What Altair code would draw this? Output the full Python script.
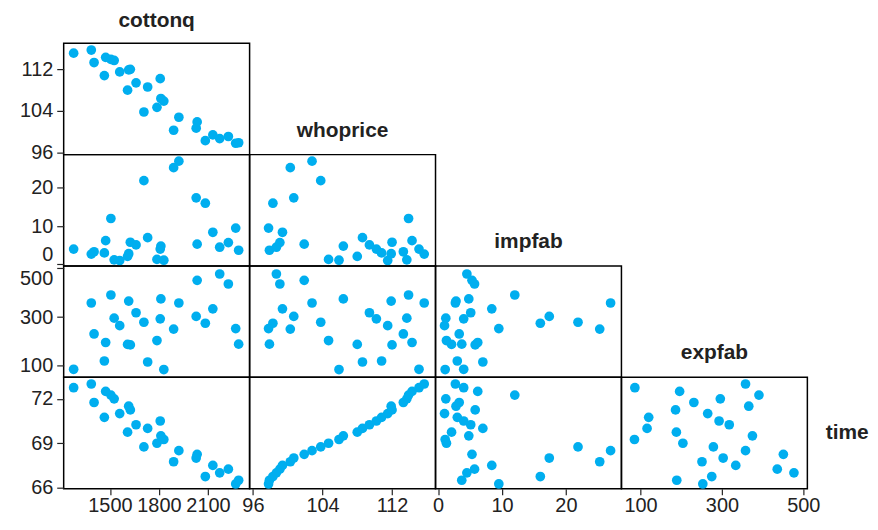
import altair as alt
import pandas as pd

time = [66.25, 66.5, 66.75, 67.0, 67.25, 67.5, 67.75, 68.0, 68.25, 68.5,
        68.75, 69.0, 69.25, 69.5, 69.75, 70.0, 70.25, 70.5, 70.75, 71.0,
        71.25, 71.5, 71.75, 72.0, 72.25, 72.5, 72.75, 73.0]
cottonq = [2270, 2288, 2084, 2172, 2225, 2130, 1890, 2028, 2034, 1922,
           1708, 1788, 1830, 1812, 1608, 1731, 1660, 1808, 1466, 1560,
           1625, 1615, 1403, 1526, 1506, 1474, 1278, 1386]
whoprice = [97.8, 97.9, 98.3, 98.7, 99.1, 99.4, 100.3, 100.7, 101.9, 102.8,
            103.8, 104.7, 105.9, 106.4, 108.0, 108.6, 109.4, 110.2, 110.8, 111.5,
            112.0, 111.9, 113.3, 113.7, 113.9, 114.3, 115.1, 115.7]
impfab = [9.5, 3.7, 16.0, 4.5, 5.7, 8.4, 25.3, 17.4, 5.3, 27.0,
          21.9, 1.3, 1.1, 4.8, 2.1, 7.0, 5.1, 4.0, 3.0, 1.0,
          5.8, 2.8, 3.3, 1.2, 12.0, 6.2, 4.0, 2.7]
expfab = [253, 189, 275, 477, 436, 334, 251, 303, 451, 358,
          279, 204, 85, 375, 188, 116, 318, 293, 120, 265,
          186, 366, 231, 296, 391, 196, 86, 358]

var_names = ["cottonq", "whoprice", "impfab", "expfab", "time"]
domains = {
    "cottonq": [1217, 2355],
    "whoprice": [95.62, 117.0],
    "impfab": [-0.41, 28.7],
    "expfab": [53, 510],
    "time": [65.93, 73.45],
}
tick_values = {
    "cottonq": [1500, 1800, 2100],
    "whoprice": [96, 104, 112],
    "impfab": [0, 10, 20],
    "expfab": [100, 300, 500],
    "time": [66, 69, 72],
}

df = pd.DataFrame({"cottonq": cottonq, "whoprice": whoprice,
                   "impfab": impfab, "expfab": expfab, "time": time})

PW, PH = 187, 112
FONT = "Liberation Sans"
COLOR = "#00aeef"
TXT = "#222222"
FS_LAB = 21
FS_TICK = 20


def text_layer(label, x, y):
    return alt.Chart(pd.DataFrame({"t": [label]})).mark_text(
        font=FONT, fontSize=FS_LAB, fontWeight="bold", color=TXT,
        align="center", baseline="middle"
    ).encode(x=alt.value(x), y=alt.value(y), text="t:N")


def empty_cell(label="", x=PW / 2, y=88):
    return text_layer(label, x, y).properties(
        width=PW, height=PH, view=alt.ViewBackground(stroke="transparent"))


def scatter(r, c):
    xv = var_names[c]
    yv = var_names[r + 1]
    if r == 3:
        xaxis = alt.Axis(values=tick_values[xv], title=None, labelFlush=False,
                         labelOverlap=False, format="d", tickSize=6, labelPadding=1)
    else:
        xaxis = None
    if c == 0:
        flush = 4 if r in (1, 2) else False
        yaxis = alt.Axis(values=tick_values[yv], title=None, labelFlush=flush,
                         labelOverlap=False, format="d")
    else:
        yaxis = None
    pts = alt.Chart(df).mark_circle(size=95, opacity=1, color=COLOR).encode(
        x=alt.X(f"{xv}:Q", scale=alt.Scale(domain=domains[xv], zero=False, nice=False), axis=xaxis),
        y=alt.Y(f"{yv}:Q", scale=alt.Scale(domain=domains[yv], zero=False, nice=False), axis=yaxis),
    )
    layers = [pts]
    if r == 0 and c == 0:
        layers.append(text_layer("cottonq", PW / 2, -22))
    if r == 3 and c == 3:
        layers.append(text_layer("time", PW + 40, PH / 2))
    if len(layers) == 1:
        return pts.properties(width=PW, height=PH)
    return alt.layer(*layers).properties(width=PW, height=PH)


cells = []
for r in range(4):
    for c in range(4):
        if c <= r:
            cells.append(scatter(r, c))
        elif c == r + 1:
            cells.append(empty_cell(var_names[c], PW / 2, 88))
        else:
            cells.append(empty_cell(""))

chart = alt.concat(*cells, columns=4, spacing=0, bounds="flush").properties(
    padding={"left": 10, "top": 0, "right": 0, "bottom": 0}
).configure_view(
    stroke="black", strokeWidth=1.5
).configure_axis(
    domain=False, grid=False, ticks=True, tickSize=7, tickWidth=1.2,
    tickColor=TXT, labelFont=FONT, labelFontSize=FS_TICK, labelColor=TXT,
    labelPadding=4
)

chart.save("out.html", embed_options={"renderer": "svg", "actions": False})
